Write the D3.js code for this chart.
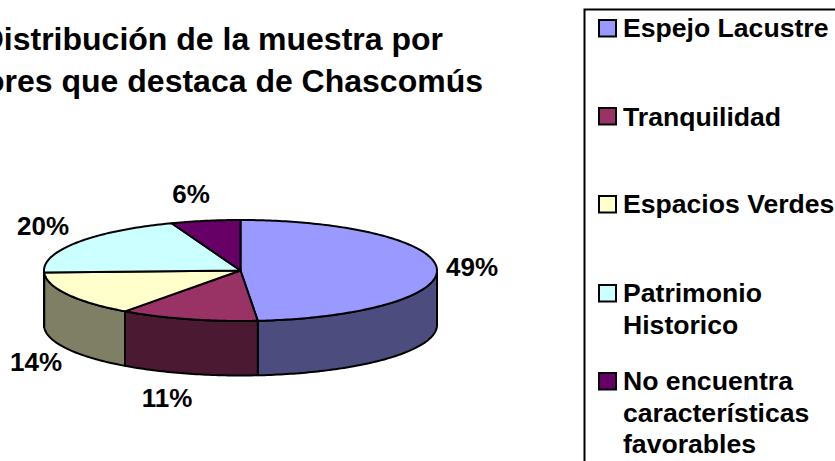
<!DOCTYPE html>
<html><head><meta charset="utf-8">
<script src="https://cdn.jsdelivr.net/npm/d3@7"></script>
<style>html,body{margin:0;padding:0;background:#fff;overflow:hidden}svg{display:block}text{font-family:"Liberation Sans",Arial,sans-serif;font-weight:bold;fill:#000}</style>
</head><body><svg id="c" width="835" height="461"></svg>
<script>
const categories = ["Espejo Lacustre","Tranquilidad","Espacios Verdes","Patrimonio Historico","No encuentra características favorables"];
const values = [48.6,11.4,14.4,19.9,5.7];
const topColors = ["#9999FF","#993366","#FFFFCC","#CCFFFF","#660066"];
const sideColors = ["#4C4C7F","#4C1933","#7F7F66","#667F7F","#330033"];
const legendLines = [["Espejo Lacustre"],["Tranquilidad"],["Espacios Verdes"],["Patrimonio","Historico"],["No encuentra","características","favorables"]];
const titleLines = ["Distribución de la muestra por","valores que destaca de Chascomús"];

const svg = d3.select("#c");
const sx = d3.scaleLinear().domain([-1,1]).range([44,437]);
const sy = d3.scaleLinear().domain([-1,1]).range([220,321]);
const depth = 54.5;
const pt = (a,dy=0)=>[sx(Math.sin(a)), sy(-Math.cos(a))+dy];
const arcs = d3.pie().sort(null).value(d=>d)(values);
const line = d3.line();
const sample = (a0,a1,dy=0)=>{const n=Math.max(2,Math.ceil((a1-a0)*60));return d3.range(n+1).map(i=>pt(a0+(a1-a0)*i/n,dy));};

// front wall
arcs.forEach((d,i)=>{
  const a0=Math.max(d.startAngle,Math.PI/2), a1=Math.min(d.endAngle,Math.PI*1.5);
  if(a1<=a0) return;
  const pts=sample(a0,a1).concat(sample(a0,a1,depth).reverse());
  svg.append("path").attr("d",line(pts)+"Z").attr("fill",sideColors[i]).attr("stroke","#000").attr("stroke-width",2).attr("stroke-linejoin","round");
});
// top face
arcs.forEach((d,i)=>{
  const pts=[[sx(0),sy(0)]].concat(sample(d.startAngle,d.endAngle));
  svg.append("path").attr("d",line(pts)+"Z").attr("fill",topColors[i]).attr("stroke","#000").attr("stroke-width",2).attr("stroke-linejoin","round");
});

// data labels
const labelCentres=[[472,276],[167,407],[36,371],[43,235],[191,203]];
svg.selectAll("text.lab").data(arcs).join("text").attr("class","lab")
  .attr("x",(d,i)=>labelCentres[i][0]).attr("y",(d,i)=>labelCentres[i][1])
  .attr("text-anchor","middle").attr("font-size",26)
  .text(d=>Math.round(d.value)+"%");

// title
const titleEnd=[443,483], titleBase=[50,92];
svg.selectAll("text.t").data(titleLines).join("text").attr("class","t")
  .attr("x",(d,i)=>titleEnd[i]).attr("y",(d,i)=>titleBase[i])
  .attr("text-anchor","end").attr("font-size",32).text(d=>d);

// legend
svg.append("rect").attr("x",584.5).attr("y",9.5).attr("width",400).attr("height",600).attr("fill","#fff").attr("stroke","#000").attr("stroke-width",2);
const swatchY=[20,108,196,285,373], legendBase=[37,126,213,302,390], lh=31.5;
legendLines.forEach((ls,i)=>{
  svg.append("rect").attr("x",599).attr("y",swatchY[i]).attr("width",17).attr("height",16.5).attr("fill",topColors[i]).attr("stroke","#000").attr("stroke-width",2);
  ls.forEach((s,j)=>svg.append("text").attr("x",623).attr("y",legendBase[i]+j*lh).attr("font-size",26.6).text(s));
});
</script></body></html>
